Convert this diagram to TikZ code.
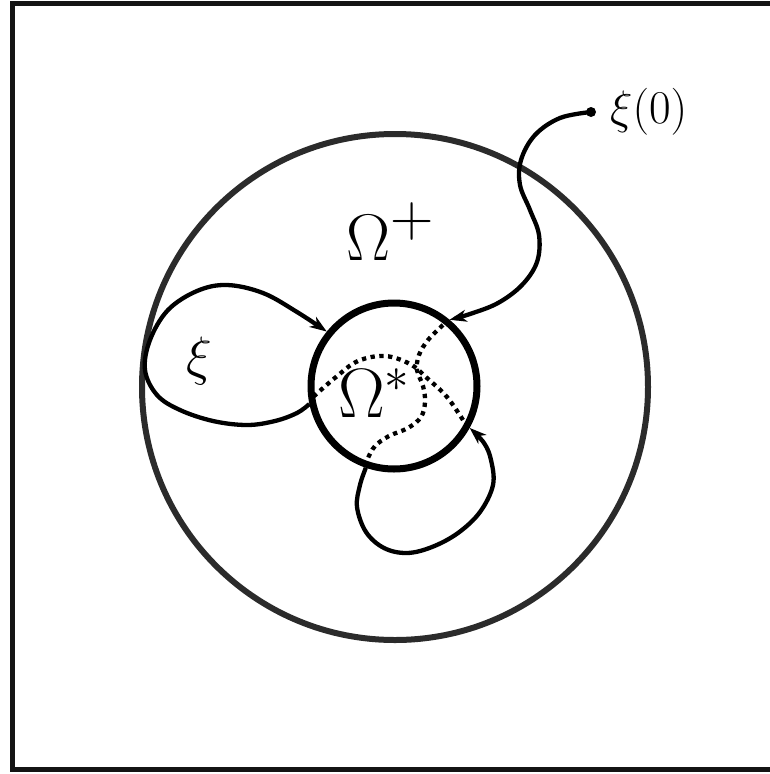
\documentclass[tikz,border=0pt]{standalone}
\usepackage{fix-cm}
\usetikzlibrary{arrows.meta}
\begin{document}
\begin{tikzpicture}[x=1pt,y=-1pt,
  curve/.style={line width=4.3pt, black, line join=round},
  arr/.style={-{Stealth[length=17pt,width=12pt,inset=5pt]}},
  dots/.style={line width=4.3pt, black, dash pattern=on 4.3pt off 4.5pt},
  lbl/.style={inner sep=0pt, anchor=base west}]
\useasboundingbox (0,0) rectangle (769,774);
\draw[line width=5pt, black!92] (12,3.5) rectangle (780,769.5);
\node[circle, draw=black!83, line width=6pt, minimum size=506pt, inner sep=0pt] (outer) at (395,387) {};
\node[circle, draw=black, line width=7pt, minimum size=166pt, inner sep=0pt] (inner) at (394,386) {};
\node[circle, fill=black, inner sep=0pt, minimum size=10pt] (start) at (591,112) {};
% labels
\node[lbl, font=\fontsize{66}{70}\selectfont] (omplus) at (346,260) {$\Omega^{\scalebox{1.3}{$\scriptstyle+$}}$};
\node[lbl, font=\fontsize{70}{74}\selectfont] (omstar) at (338,417) {$\Omega^{*}$};
\node[lbl, font=\fontsize{54}{58}\selectfont] (xi) at (186,374) {$\xi$};
\node[lbl, font=\fontsize{47}{51}\selectfont] (xi0) at (610,123) {$\xi(0)$};
% path from xi(0) into Omega*
\draw[curve, arr] plot[smooth, tension=0.6] coordinates {(start.center) (560,118) (535,135) (521,160) (520,185) (530,210) (539,235) (537,262) (522,285) (498,303) (470,314) (inner.50)};
% dotted inside
\draw[dots] plot[smooth, tension=0.6] coordinates {(443,325) (428,340) (419,355) (417,370) (423,386) (425,402) (421,417) (408,428) (389,436) (375,446) (368,458)};
% bottom loop
\draw[curve, arr] plot[smooth, tension=0.6] coordinates {(inner.251) (360,485) (357,507) (366,532) (384,548) (407,553) (432,547) (458,533) (480,512) (493,485) (491,460) (484,443) (inner.331)};
% dotted inside
\draw[dots] plot[smooth, tension=0.6] coordinates {(463,420) (447,397) (427,378) (410,364) (385,356) (358,361) (336,377) (313,397)};
% left loop
\draw[curve, arr] plot[smooth, tension=0.6] coordinates {(inner.192) (297,413) (275,421) (247,425) (213,421) (180,410) (157,395) (145,370) (150,340) (168,310) (197,291) (227,285) (263,293) (297,312) (inner.141)};
\end{tikzpicture}
\end{document}
